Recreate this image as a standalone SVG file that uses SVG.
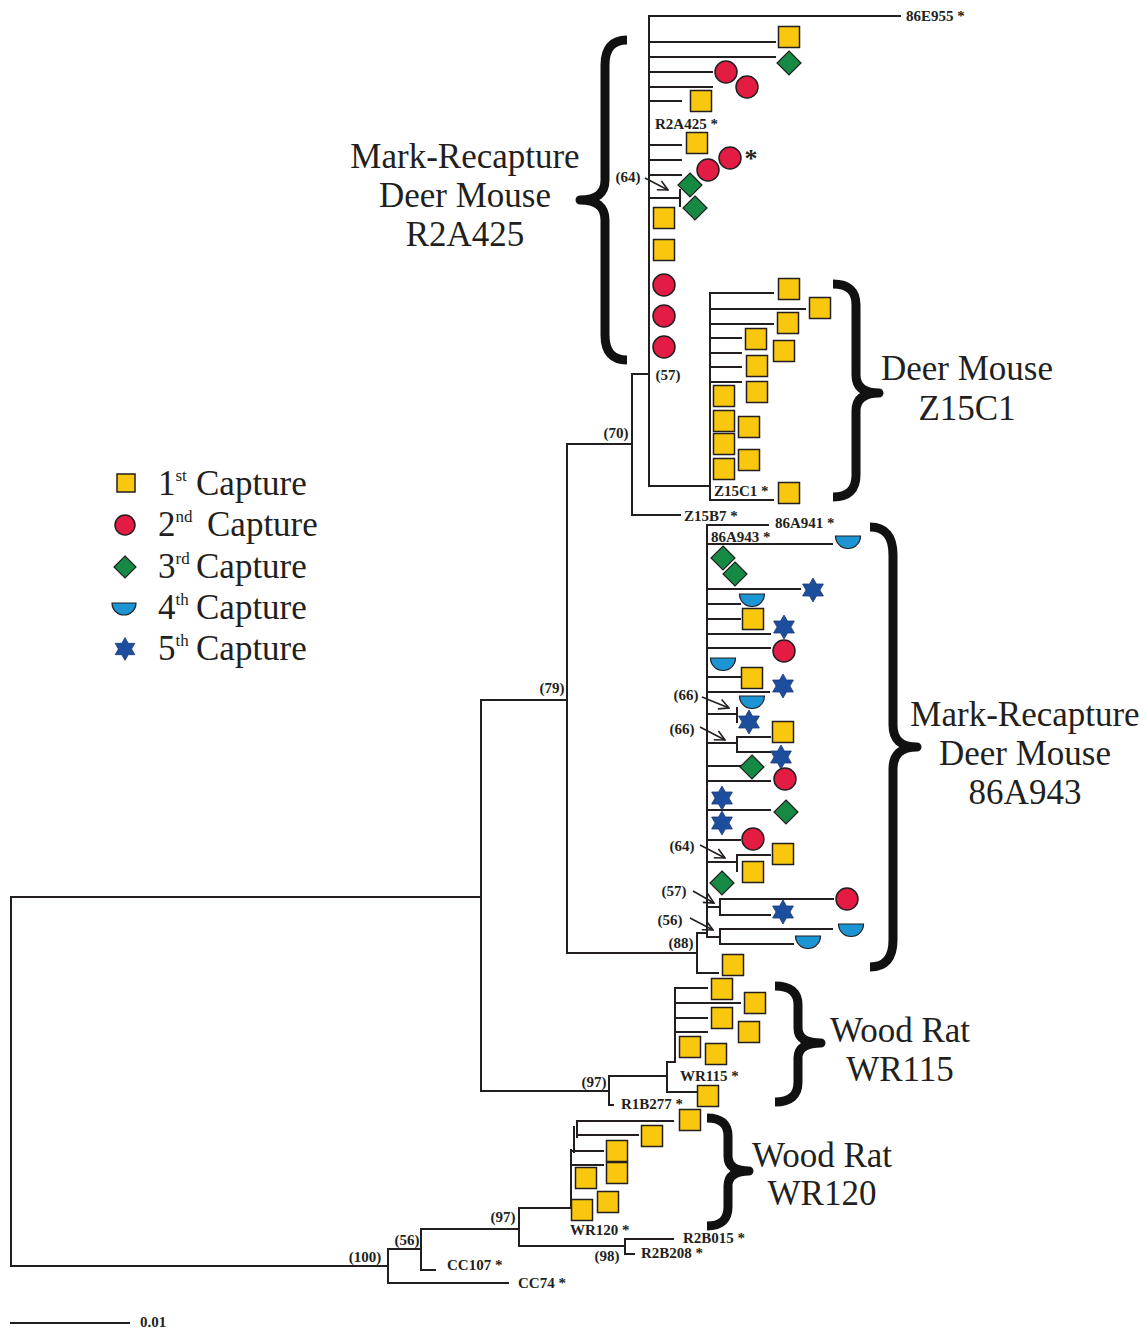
<svg xmlns="http://www.w3.org/2000/svg" xmlns:xlink="http://www.w3.org/1999/xlink" width="1146" height="1328" viewBox="0 0 1146 1328">
<style>
.br{stroke:#231f20;stroke-width:2;fill:none;stroke-linecap:square}
.lb{font-family:"Liberation Serif",serif;font-weight:bold;font-size:15px;fill:#231f20}
.sup{font-family:"Liberation Serif",serif;font-weight:bold;font-size:15px;fill:#231f20;text-anchor:middle}
.big{font-family:"Liberation Serif",serif;font-size:35px;fill:#231f20;text-anchor:middle}
.leg{font-family:"Liberation Serif",serif;font-size:35px;fill:#231f20}
.sq{fill:#F9C80E;stroke:#231f20;stroke-width:1.5}
.ci{fill:#E41B43;stroke:#231f20;stroke-width:1.5}
.di{fill:#168A45;stroke:#231f20;stroke-width:1.2}
.hd{fill:#1B95D3;stroke:#231f20;stroke-width:1.2}
.st{fill:#1D4E9E;stroke:#1D3A7A;stroke-width:0.8}
.brace{stroke:#111;stroke-width:9;fill:none;stroke-linejoin:round}
.arr{stroke:#231f20;stroke-width:1.5;fill:none}
</style>
<defs>
<rect id="S" x="-10.5" y="-10.5" width="21" height="21" class="sq"/>
<circle id="C" r="11" class="ci"/>
<polygon id="D" points="0,-12 12,0 0,12 -12,0" class="di"/>
<path id="H" d="M-12.5,-6 H12.5 A12.5,12.5 0 0 1 -12.5,-6 Z" class="hd"/>
<polygon id="T" points="0,-12 3.46,-6 10.39,-6 6.93,0 10.39,6 3.46,6 0,12 -3.46,6 -10.39,6 -6.93,0 -10.39,-6 -3.46,-6" class="st"/>
<marker id="ah" viewBox="0 0 12 12" refX="11" refY="6" markerWidth="12" markerHeight="12" markerUnits="userSpaceOnUse" orient="auto">
<path d="M1,1 L11,6 L1,11" fill="none" stroke="#231f20" stroke-width="1.6"/>
</marker>
</defs>
<rect width="1146" height="1328" fill="#fff"/>

<g id="connectors">
<path class="br" d="M11,897 V1266 M11,897 H481 M11,1266 H388 M481,700 V1091 M481,700 H567 M481,1091 H609 M567,444 V953 M567,444 H632 M567,953 H697 M632,374 V515 M632,374 H649 M632,515 H680 M649,16 V486 M649,16 H900 M649,486 H710 M649,42 H775 M649,57 H775 M649,72 H712 M649,87 H712 M649,101 H681 M649,145 H681 M649,160 H681 M649,175 H681 M649,198 H680 M680,190 V206 M710,293 V500 M710,293 H773 M710,309 H805 M710,324 H773 M710,338 H741 M710,353 H741 M710,367 H741 M710,382 H741 M710,500 H773 M697,933 V973 M697,933 H707 M697,973 H718 M707,525 V937 M707,525 H768 M707,544 H832 M707,589 H800 M707,604 H740 M707,619 H740 M707,634 H770 M707,648 H770 M707,677 H740 M707,692 H769 M707,714 H737 M737,708 V722 M707,743 H737 M737,737 V752 M737,737 H770 M737,752 H770 M707,766 H740 M707,781 H770 M707,810 H770 M707,840 H740 M707,862 H737 M737,855 V871 M737,855 H770 M707,907 H720 M720,899 V915 M720,899 H833 M720,915 H770 M707,937 H720 M720,929 V944 M720,929 H832 M720,944 H793 M609,1076 V1105 M609,1076 H667 M609,1105 H613 M667,1062 V1092 M667,1062 H675 M667,1092 H697 M675,988 V1062 M675,988 H707 M675,1003 H740 M675,1018 H707 M675,1032 H707 M388,1249 V1283 M388,1249 H421 M388,1283 H508 M421,1229 V1270 M421,1229 H519 M421,1270 H435 M519,1208 V1246 M519,1208 H571 M519,1246 H625 M625,1239 V1254 M625,1239 H673 M625,1254 H634 M571,1150 V1208 M574,1127 V1152 M577,1121 V1137 M577,1121 H673 M577,1135 H638 M571,1151 H603 M571,1165 H603"/>
<path class="br" stroke-width="2.5" d="M11,1323 H129"/>
<g id="support-arrows">
<path class="arr" marker-end="url(#ah)" d="M645,178 L668,190"/>
<path class="arr" marker-end="url(#ah)" d="M702,697 L729,708"/>
<path class="arr" marker-end="url(#ah)" d="M700,727 L725,740"/>
<path class="arr" marker-end="url(#ah)" d="M700,845 L725,858"/>
<path class="arr" marker-end="url(#ah)" d="M693,891 L714,903"/>
<path class="arr" marker-end="url(#ah)" d="M690,918 L713,930"/>
</g>
</g>

<g id="support-values">
<text class="sup" x="628" y="182">(64)</text>
<text class="sup" x="668" y="380">(57)</text>
<text class="sup" x="616" y="438">(70)</text>
<text class="sup" x="552" y="693">(79)</text>
<text class="sup" x="686" y="700">(66)</text>
<text class="sup" x="682" y="734">(66)</text>
<text class="sup" x="682" y="851">(64)</text>
<text class="sup" x="674" y="896">(57)</text>
<text class="sup" x="670" y="925">(56)</text>
<text class="sup" x="681" y="948">(88)</text>
<text class="sup" x="594" y="1087">(97)</text>
<text class="sup" x="503" y="1222">(97)</text>
<text class="sup" x="607" y="1261">(98)</text>
<text class="sup" x="407" y="1245">(56)</text>
<text class="sup" x="365" y="1262">(100)</text>
</g>

<g id="leaf-labels">
<text class="lb" x="906" y="21">86E955 *</text>
<text class="lb" x="655" y="129">R2A425 *</text>
<text class="lb" x="714" y="496">Z15C1 *</text>
<text class="lb" x="684" y="521">Z15B7 *</text>
<text class="lb" x="775" y="528">86A941 *</text>
<text class="lb" x="711" y="542">86A943 *</text>
<text class="lb" x="680" y="1081">WR115 *</text>
<text class="lb" x="621" y="1109">R1B277 *</text>
<text class="lb" x="570" y="1235">WR120 *</text>
<text class="lb" x="683" y="1243">R2B015 *</text>
<text class="lb" x="641" y="1258">R2B208 *</text>
<text class="lb" x="447" y="1270">CC107 *</text>
<text class="lb" x="518" y="1288">CC74 *</text>
<text class="lb" x="140" y="1327">0.01</text>
<text x="751" y="167" font-family="Liberation Serif,serif" font-weight="bold" font-size="26" fill="#231f20" text-anchor="middle">*</text>
</g>

<g id="clade-R2A425-markers">
<use href="#S" x="789" y="37"/><use href="#S" x="701" y="101"/><use href="#S" x="697" y="143"/><use href="#S" x="664" y="218"/><use href="#S" x="664" y="250"/>
<use href="#D" x="789" y="63"/><use href="#C" x="726" y="72"/><use href="#C" x="747" y="87"/>
<use href="#C" x="730" y="158"/><use href="#C" x="708" y="170"/>
<use href="#D" x="690" y="185"/><use href="#D" x="695" y="208"/>
<use href="#C" x="664" y="285"/><use href="#C" x="664" y="316"/><use href="#C" x="664" y="347"/>
</g>

<g id="clade-Z15C1-markers">
<use href="#S" x="789" y="289"/><use href="#S" x="820" y="308"/><use href="#S" x="788" y="323"/><use href="#S" x="756" y="339"/><use href="#S" x="784" y="351"/><use href="#S" x="757" y="366"/><use href="#S" x="757" y="392"/><use href="#S" x="724" y="396"/><use href="#S" x="724" y="421"/><use href="#S" x="724" y="444"/><use href="#S" x="724" y="469"/><use href="#S" x="749" y="427"/><use href="#S" x="749" y="460"/><use href="#S" x="789" y="493"/>
</g>

<g id="clade-86A943-markers">
<use href="#H" x="848" y="542"/>
<use href="#D" x="723" y="558"/><use href="#D" x="735" y="574"/>
<use href="#T" x="813" y="590"/>
<use href="#H" x="752" y="600"/>
<use href="#S" x="753" y="619"/>
<use href="#T" x="784" y="627"/>
<use href="#C" x="784" y="651"/>
<use href="#H" x="723" y="664"/>
<use href="#S" x="752" y="678"/>
<use href="#T" x="783" y="686"/>
<use href="#H" x="752" y="702"/>
<use href="#T" x="749" y="722"/>
<use href="#S" x="783" y="732"/>
<use href="#T" x="781" y="757"/>
<use href="#D" x="752" y="767"/>
<use href="#C" x="785" y="779"/>
<use href="#T" x="722" y="798"/>
<use href="#D" x="786" y="812"/>
<use href="#T" x="722" y="823"/>
<use href="#C" x="753" y="839"/>
<use href="#S" x="783" y="854"/>
<use href="#S" x="753" y="872"/>
<use href="#D" x="722" y="883"/>
<use href="#C" x="847" y="899"/>
<use href="#T" x="783" y="912"/>
<use href="#H" x="851" y="930"/>
<use href="#H" x="808" y="942"/>
<use href="#S" x="733" y="965"/>
</g>

<g id="clade-WR115-markers">
<use href="#S" x="722" y="989"/><use href="#S" x="755" y="1003"/><use href="#S" x="722" y="1018"/><use href="#S" x="749" y="1032"/><use href="#S" x="690" y="1047"/><use href="#S" x="716" y="1054"/><use href="#S" x="708" y="1096"/>
</g>

<g id="clade-WR120-markers">
<use href="#S" x="690" y="1120"/><use href="#S" x="652" y="1136"/><use href="#S" x="617" y="1151"/><use href="#S" x="617" y="1173"/><use href="#S" x="586" y="1178"/><use href="#S" x="608" y="1202"/><use href="#S" x="582" y="1210"/>
</g>

<g id="brace-R2A425">
<path class="brace" d="M627,40 Q605,40 605,65 L605,180 Q605,200 580,200 Q605,200 605,220 L605,335 Q605,360 627,360"/>
<text class="big" x="465" y="168">Mark-Recapture</text>
<text class="big" x="465" y="207">Deer Mouse</text>
<text class="big" x="465" y="246">R2A425</text>
</g>
<g id="brace-Z15C1">
<path class="brace" d="M833,284 Q856,284 856,305 L856,375 Q856,393 879,393 Q856,393 856,411 L856,475 Q856,497 833,497"/>
<text class="big" x="967" y="380">Deer Mouse</text>
<text class="big" x="967" y="420">Z15C1</text>
</g>
<g id="brace-86A943">
<path class="brace" d="M870,527 Q893,527 893,555 L893,725 Q893,747 917,747 Q893,747 893,769 L893,940 Q893,967 870,967"/>
<text class="big" x="1025" y="726">Mark-Recapture</text>
<text class="big" x="1025" y="765">Deer Mouse</text>
<text class="big" x="1025" y="804">86A943</text>
</g>
<g id="brace-WR115">
<path class="brace" d="M775,986 Q798,986 798,1005 L798,1028 Q798,1043 821,1043 Q798,1043 798,1058 L798,1082 Q798,1102 775,1102"/>
<text class="big" x="900" y="1042">Wood Rat</text>
<text class="big" x="900" y="1081">WR115</text>
</g>
<g id="brace-WR120">
<path class="brace" d="M707,1118 Q728,1118 728,1136 L728,1156 Q728,1171 749,1171 Q728,1171 728,1186 L728,1207 Q728,1226 707,1226"/>
<text class="big" x="822" y="1167">Wood Rat</text>
<text class="big" x="822" y="1205">WR120</text>
</g>

<g id="legend">
<rect x="117" y="474" width="18" height="18" class="sq"/>
<circle cx="125" cy="525" r="10" class="ci"/>
<polygon points="125,556 136,567 125,578 114,567" class="di"/>
<path d="M112,603 H136 A12,12 0 0 1 112,603 Z" class="hd"/>
<use href="#T" transform="translate(125,649) scale(0.95)"/>
<text class="leg" y="495"><tspan x="158">1</tspan><tspan font-size="17" dy="-14">st</tspan><tspan x="196" dy="14">Capture</tspan></text>
<text class="leg" y="536"><tspan x="158">2</tspan><tspan font-size="17" dy="-14">nd</tspan><tspan x="207" dy="14">Capture</tspan></text>
<text class="leg" y="578"><tspan x="158">3</tspan><tspan font-size="17" dy="-14">rd</tspan><tspan x="196" dy="14">Capture</tspan></text>
<text class="leg" y="619"><tspan x="158">4</tspan><tspan font-size="17" dy="-14">th</tspan><tspan x="196" dy="14">Capture</tspan></text>
<text class="leg" y="660"><tspan x="158">5</tspan><tspan font-size="17" dy="-14">th</tspan><tspan x="196" dy="14">Capture</tspan></text>
</g>
</svg>
